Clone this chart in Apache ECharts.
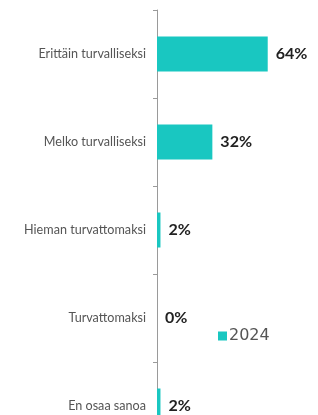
<!DOCTYPE html>
<html>
<head>
<meta charset="utf-8">
<script src="https://cdn.jsdelivr.net/npm/echarts@6/dist/echarts.min.js"></script>
<style>
  html, body { margin: 0; padding: 0; background: #fff; overflow: hidden; }
  /* kaavio jatkuu kuvan reunojen yli, kuten alkuperäisessä */
  #chart { width: 340px; height: 460px; }
</style>
</head>
<body>
<div id="chart"></div>
<script>
// vastausvaihtoehdot ja osuudet (%)
const categories = ['Erittäin turvalliseksi', 'Melko turvalliseksi', 'Hieman turvattomaksi', 'Turvattomaksi', 'En osaa sanoa']
const values2024 = [64, 32, 2, 0, 2]
const seriesName = '2024'

const chart = echarts.init(document.getElementById('chart'))

const option = {
  animation: false,
  textStyle: { fontFamily: 'Lato' },
  legend: {
    data: [seriesName],
    left: 213,
    top: 323,
    icon: 'rect',
    itemWidth: 9,
    itemHeight: 9,
    itemGap: 4,
    textStyle: { fontSize: 16, color: '#555', fontFamily: 'DejaVu Sans', padding: [0, 0, 0, -3] }
  },
  grid: {
    left: 157,
    top: 10,
    width: 173,
    height: 440,
    containLabel: false
  },
  xAxis: {
    type: 'value',
    min: 0,
    max: 100,
    show: false
  },
  yAxis: {
    type: 'category',
    inverse: true,
    data: categories,
    axisLine: { show: true, lineStyle: { color: '#9a9a9a', width: 1 } },
    axisTick: { show: true, length: 4, lineStyle: { color: '#9a9a9a' } },
    axisLabel: { fontSize: 12.6, color: '#555', margin: 11, fontFamily: 'Lato' }
  },
  series: [{
    name: seriesName,
    type: 'bar',
    data: values2024,
    barWidth: 35,
    itemStyle: { color: '#19c7c1' },
    label: {
      show: true,
      position: 'right',
      distance: 8,
      formatter: '{c}%',
      fontSize: 16,
      fontWeight: 'bold',
      color: '#222',
      fontFamily: 'Lato'
    }
  }]
}

chart.setOption(option)
</script>
</body>
</html>
